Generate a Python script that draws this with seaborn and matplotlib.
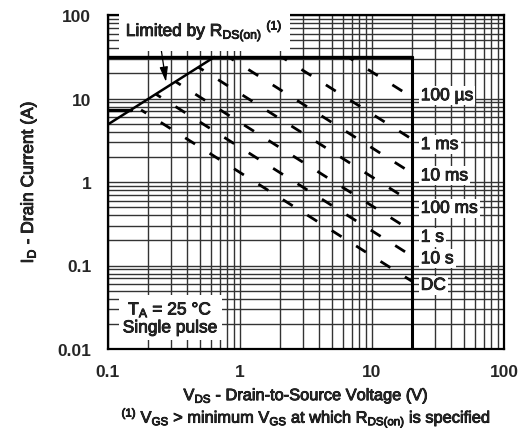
import matplotlib
matplotlib.use("Agg")
import matplotlib.pyplot as plt
import matplotlib.patheffects as pe
import seaborn as sns
import pandas as pd

# ---------------- data ----------------
x_ticks = [0.1, 1, 10, 100]
x_tick_labels = ["0.1", "1", "10", "100"]
y_ticks = [0.01, 0.1, 1, 10, 100]
y_tick_labels = ["0.01", "0.1", "1", "10", "100"]

# R_DS(on) limit line
rds_v = [0.1, 0.64]
rds_i = [4.9, 31.4]
# package current limit (top line)
top_v = [0.1, 20]
top_i = [31.4, 31.4]
# voltage limit (vertical wall)
wall_v = [20, 20]
wall_i = [31.4, 0.01]
# continuous current segment at left
cont_v = [0.1, 0.15]
cont_i = [7.3, 7.3]

pulse_labels = ["100 µs", "1 ms", "10 ms", "100 ms", "1 s", "10 s", "DC"]
pulse_v_start = [6.6, 2.07, 0.82, 0.484, 0.325, 0.230, 0.178]
pulse_i_start = [31.4, 31.4, 31.4, 23.7, 15.9, 11.3, 7.3]
pulse_v_end = [20, 20, 20, 20, 20, 20, 20]
pulse_i_end = [10.4, 3.27, 1.28, 0.575, 0.259, 0.130, 0.065]
# label vertical offsets (points) relative to line end
label_dy = [1, -4, -2, -4.5, -4.5, -2, -3]

# ---------------- style ----------------
sns.set_style("white")
plt.rcParams["font.family"] = ["Liberation Sans", "DejaVu Sans"]
plt.rcParams["mathtext.fontset"] = "custom"
plt.rcParams["mathtext.rm"] = "Liberation Sans"
plt.rcParams["mathtext.it"] = "Liberation Sans:italic"
plt.rcParams["mathtext.bf"] = "Liberation Sans:bold"

FS = 12.5
FS_X = 11.8
HEAVY = [pe.withStroke(linewidth=0.6, foreground="black")]

fig = plt.figure(figsize=(5.24, 4.35), dpi=100)
ax = fig.add_axes([108 / 524, 1 - 350 / 435, 396 / 524, 334 / 435])

ax.set_xscale("log")
ax.set_yscale("log")
ax.set_xlim(0.1, 100)
ax.set_ylim(0.01, 100)

ax.grid(which="both", color="#333333", linewidth=1.0, zorder=0)
ax.set_axisbelow(True)

def seg(v, i):
    return pd.DataFrame({"V": v, "I": i})

solid_kw = dict(color="black", sort=False, estimator=None, ax=ax, legend=False)
sns.lineplot(data=seg(top_v, top_i), x="V", y="I", linewidth=2.4, zorder=4, **solid_kw)
sns.lineplot(data=seg(wall_v, wall_i), x="V", y="I", linewidth=2.2, zorder=4, **solid_kw)
sns.lineplot(data=seg(rds_v, rds_i), x="V", y="I", linewidth=1.8, zorder=4, **solid_kw)
sns.lineplot(data=seg(cont_v, cont_i), x="V", y="I", linewidth=2.4, zorder=4, **solid_kw)

for lab, vs, is_, ve, ie, dy in zip(pulse_labels, pulse_v_start, pulse_i_start,
                                    pulse_v_end, pulse_i_end, label_dy):
    sns.lineplot(data=seg([vs, ve], [is_, ie]), x="V", y="I", linewidth=2.0,
                 linestyle=(2, (4.2, 6.2)), zorder=4, **solid_kw)
    ax.annotate(lab, xy=(ve, ie), xytext=(6.5, dy), textcoords="offset points",
                ha="left", va="center", fontsize=FS, zorder=6, path_effects=HEAVY,
                bbox=dict(facecolor="white", edgecolor="none", pad=1.5))

for s in ax.spines.values():
    s.set_color("black")
    s.set_linewidth(1.6)
    s.set_zorder(5)

ax.set_xticks(x_ticks)
ax.set_xticklabels(x_tick_labels)
ax.set_yticks(y_ticks)
ax.set_yticklabels(y_tick_labels)
ax.tick_params(which="both", length=0)
ax.tick_params(axis="x", pad=11, labelsize=FS)
ax.tick_params(axis="y", pad=12, labelsize=FS)
ax.minorticks_on()
ax.tick_params(which="minor", length=0, labelbottom=False, labelleft=False)
for t in ax.get_xticklabels() + ax.get_yticklabels():
    t.set_fontweight("bold")

ax.set_xlabel(r"V$_\mathregular{DS}$ - Drain-to-Source Voltage (V)", fontsize=FS_X,
              labelpad=5, path_effects=HEAVY)
ax.set_ylabel(r"I$_\mathregular{D}$ - Drain Current (A)", fontsize=FS, labelpad=14,
              path_effects=HEAVY)
fig.text(306 / 524, 0.026,
         r"$\mathregular{^{(1)}}$ V$_\mathregular{GS}$ > minimum V$_\mathregular{GS}$ at which R$_\mathregular{DS(on)}$ is specified",
         ha="center", va="baseline", fontsize=FS_X, path_effects=HEAVY)

# "Limited by" annotation
ax.text(0.045, 0.952, r"Limited by R$_\mathregular{DS(on)}$ $\mathregular{^{(1)}}$",
        transform=ax.transAxes, ha="left", va="center", fontsize=FS, zorder=6,
        path_effects=HEAVY,
        bbox=dict(facecolor="white", edgecolor="none", pad=5))
ax.annotate("", xy=(0.275, 15.8), xytext=(0.248, 47.5),
            arrowprops=dict(arrowstyle="-|>,head_length=0.9,head_width=0.25",
                            color="black", lw=0.9, shrinkA=0, shrinkB=0), zorder=5)

ax.text(0.157, 0.093, "T$_\\mathregular{A}$ = 25 °C\nSingle pulse", transform=ax.transAxes,
        ha="center", va="center", fontsize=FS, linespacing=1.1, zorder=6,
        path_effects=HEAVY,
        bbox=dict(facecolor="white", edgecolor="none", pad=3))

fig.savefig("out.png", dpi=100)
